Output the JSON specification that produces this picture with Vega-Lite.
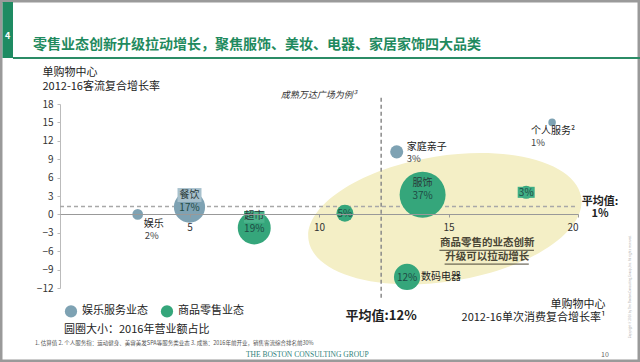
{
  "$schema": "https://vega.github.io/schema/vega-lite/v6.json",
  "width": 518,
  "height": 184,
  "autosize": {"type": "none"},
  "padding": {"left": 60, "top": 104, "right": 62, "bottom": 74},
  "background": "white",
  "config": {
    "font": "Noto Sans CJK SC",
    "view": {"stroke": null},
    "axis": {"labelOverlap": false},
    "text": {"font": "Noto Sans CJK SC", "color": "#222222"}
  },
  "datasets": {
    "cats": [
      {"name": "娱乐", "pct": "2%", "share": 2, "type": "娱乐服务业态", "x": 3.0, "y": 0.0},
      {"name": "餐饮", "pct": "17%", "share": 17, "type": "娱乐服务业态", "x": 5.0, "y": 1.2},
      {"name": "超市", "pct": "19%", "share": 19, "type": "商品零售业态", "x": 7.5, "y": -2.2},
      {"name": "美妆", "pct": "5%", "share": 5, "type": "商品零售业态", "x": 11.0, "y": 0.2},
      {"name": "家庭亲子", "pct": "3%", "share": 3, "type": "娱乐服务业态", "x": 13.0, "y": 10.2},
      {"name": "服饰", "pct": "37%", "share": 37, "type": "商品零售业态", "x": 14.0, "y": 3.2},
      {"name": "数码电器", "pct": "12%", "share": 12, "type": "商品零售业态", "x": 13.4, "y": -10.2},
      {"name": "家居家饰", "pct": "3%", "share": 3, "type": "商品零售业态", "x": 18.0, "y": 3.6},
      {"name": "个人服务²", "pct": "1%", "share": 1, "type": "娱乐服务业态", "x": 19.0, "y": 15.0}
    ]
  },
  "data": {"values": [{}]},
  "layer": [
    {
      "mark": {"type": "rect", "fillOpacity": 0, "stroke": "#9a9a9a", "strokeWidth": 5},
      "encoding": {"x": {"datum": -2.317}, "x2": {"datum": 22.394}, "y": {"datum": 34.96}, "y2": {"datum": -24.07}}
    },
    {
      "mark": {"type": "rect", "color": "#1e8b62"},
      "encoding": {"x": {"datum": -2.22}, "x2": {"datum": -1.815}, "y": {"datum": 34.63}, "y2": {"datum": 25.5}}
    },
    {
      "mark": {"type": "text", "text": "4", "color": "white", "fontWeight": "bold", "fontSize": 9, "align": "center", "baseline": "middle"},
      "encoding": {"x": {"datum": -2.02}, "y": {"datum": 29.1}}
    },
    {
      "mark": {"type": "rule", "color": "#2b8c66", "strokeWidth": 2},
      "encoding": {"x": {"datum": -1.815}, "x2": {"datum": 22.394}, "y": {"datum": 25.5}}
    },
    {
      "mark": {"type": "text", "text": "零售业态创新升级拉动增长，聚焦服饰、美妆、电器、家居家饰四大品类", "color": "#1f8a5e", "fontWeight": "bold", "fontSize": 14, "align": "left", "baseline": "middle"},
      "encoding": {"x": {"datum": -1.04}, "y": {"datum": 27.6}}
    },
    {
      "mark": {"type": "point", "filled": true, "shape": "M -0.9877 0.1564 A 1 0.455 -9 0 1 0.9877 -0.1564 A 1 0.455 -9 0 1 -0.9877 0.1564 Z", "size": 76176, "color": "#f4efc6", "opacity": 1, "strokeWidth": 0},
      "encoding": {"x": {"datum": 14.86}, "y": {"datum": -0.7}}
    },
    {
      "mark": {"type": "rule", "color": "#a8a8a8", "strokeWidth": 1.5, "strokeDash": [4, 3]},
      "encoding": {"x": {"datum": 0}, "x2": {"datum": 20}, "y": {"datum": 1.3}}
    },
    {
      "mark": {"type": "rule", "color": "#8a8a8a", "strokeWidth": 1.5, "strokeDash": [4, 3]},
      "encoding": {"x": {"datum": 12.4}, "y": {"datum": 19}, "y2": {"datum": -14}}
    },
    {
      "data": {"name": "cats"},
      "mark": {"type": "circle", "opacity": 1},
      "encoding": {
        "x": {
          "field": "x", "type": "quantitative",
          "scale": {"domain": [0, 20], "nice": false, "zero": false},
          "axis": {
            "values": [5, 10, 15, 20], "tickCount": 20, "offset": -74, "grid": false, "zindex": 1, "labelOverlap": false,
            "domainColor": "#999999", "tickColor": "#999999", "tickSize": 3,
            "labelFontSize": 10, "labelColor": "#333333", "labelPadding": 5,
            "title": ["单购物中心", "2012-16单次消费复合增长率¹"],
            "titleFontSize": 11, "titleFontWeight": "normal", "titleColor": "#222222",
            "titleAlign": "right", "titleAnchor": null, "titleBaseline": "top",
            "titleX": 545, "titleY": 84, "titleLineHeight": 13
          }
        },
        "y": {
          "field": "y", "type": "quantitative",
          "scale": {"domain": [-12, 18], "nice": false, "zero": false},
          "axis": {
            "values": [-12, -9, -6, -3, 0, 3, 6, 9, 12, 15, 18], "tickCount": 20, "grid": false, "labelOverlap": false,
            "domainColor": "#bbbbbb", "tickColor": "#bbbbbb", "tickSize": 3,
            "labelFontSize": 10, "labelColor": "#333333", "labelPadding": 4,
            "title": ["单购物中心", "2012-16客流复合增长率"],
            "titleFontSize": 11, "titleFontWeight": "normal", "titleColor": "#222222",
            "titleAngle": 0, "titleAlign": "left", "titleAnchor": null, "titleBaseline": "top",
            "titleX": -18, "titleY": -38, "titleLineHeight": 14
          }
        },
        "size": {"field": "share", "type": "quantitative", "scale": {"domain": [0, 37], "range": [0, 2116], "zero": true}, "legend": null},
        "color": {
          "field": "type", "type": "nominal",
          "scale": {"domain": ["娱乐服务业态", "商品零售业态"], "range": ["#7ea2b3", "#35a67b"]},
          "legend": {
            "orient": "none", "legendX": 4, "legendY": 200, "direction": "horizontal",
            "title": "圆圈大小：2016年营业额占比", "titleOrient": "bottom",
            "titleFontSize": 11, "titleFontWeight": "normal", "titleColor": "#222222", "titlePadding": 6,
            "symbolType": "circle", "symbolSize": 150, "symbolOpacity": 1,
            "labelFontSize": 11, "labelColor": "#222222", "columnPadding": 12
          }
        }
      }
    },
    {
      "data": {"name": "cats"},
      "transform": [{"filter": {"field": "name", "equal": "餐饮"}}],
      "mark": {"type": "point", "filled": true, "opacity": 1, "shape": "M -1 -0.58 H 1 V 0.58 H -1 Z", "size": 576, "yOffset": -12, "color": "#a7c0cc", "strokeWidth": 0},
      "encoding": {"x": {"field": "x", "type": "quantitative"}, "y": {"field": "y", "type": "quantitative"}}
    },
    {
      "data": {"name": "cats"},
      "transform": [{"filter": {"field": "name", "equal": "超市"}}],
      "mark": {"type": "point", "filled": true, "opacity": 1, "shape": "M -1 -0.58 H 1 V 0.58 H -1 Z", "size": 420, "yOffset": -11, "color": "#4ab38b", "strokeWidth": 0},
      "encoding": {"x": {"field": "x", "type": "quantitative"}, "y": {"field": "y", "type": "quantitative"}}
    },
    {
      "data": {"name": "cats"},
      "transform": [{"filter": {"field": "name", "equal": "家居家饰"}}],
      "mark": {"type": "point", "filled": true, "opacity": 1, "shape": "M -1 -0.65 H 1 V 0.65 H -1 Z", "size": 289, "color": "#3fae85", "strokeWidth": 0},
      "encoding": {"x": {"field": "x", "type": "quantitative"}, "y": {"field": "y", "type": "quantitative"}}
    },
    {
      "data": {"name": "cats"},
      "transform": [{"filter": {"field": "name", "oneOf": ["餐饮", "超市", "服饰"]}}],
      "mark": {"type": "text", "fontSize": 10, "dy": -12, "align": "center", "baseline": "middle", "color": "#2a3a3a"},
      "encoding": {"x": {"field": "x", "type": "quantitative"}, "y": {"field": "y", "type": "quantitative"}, "text": {"field": "name"}}
    },
    {
      "data": {"name": "cats"},
      "transform": [{"filter": {"field": "name", "oneOf": ["餐饮", "超市", "服饰", "美妆", "家居家饰", "数码电器"]}}],
      "mark": {"type": "text", "fontSize": 10, "dy": 1, "align": "center", "baseline": "middle", "color": "#1f4a44"},
      "encoding": {"x": {"field": "x", "type": "quantitative"}, "y": {"field": "y", "type": "quantitative"}, "text": {"field": "pct"}}
    },
    {
      "data": {"name": "cats"},
      "transform": [{"filter": {"field": "name", "equal": "家庭亲子"}}],
      "mark": {"type": "text", "fontSize": 10, "dx": 10, "dy": -5, "align": "left", "baseline": "middle"},
      "encoding": {"x": {"field": "x", "type": "quantitative"}, "y": {"field": "y", "type": "quantitative"}, "text": {"field": "name"}}
    },
    {
      "data": {"name": "cats"},
      "transform": [{"filter": {"field": "name", "equal": "家庭亲子"}}],
      "mark": {"type": "text", "fontSize": 9.5, "dx": 10, "dy": 7, "align": "left", "baseline": "middle", "color": "#444444"},
      "encoding": {"x": {"field": "x", "type": "quantitative"}, "y": {"field": "y", "type": "quantitative"}, "text": {"field": "pct"}}
    },
    {
      "data": {"name": "cats"},
      "transform": [{"filter": {"field": "name", "equal": "娱乐"}}],
      "mark": {"type": "text", "fontSize": 10, "dx": 6, "dy": 10, "align": "left", "baseline": "middle"},
      "encoding": {"x": {"field": "x", "type": "quantitative"}, "y": {"field": "y", "type": "quantitative"}, "text": {"field": "name"}}
    },
    {
      "data": {"name": "cats"},
      "transform": [{"filter": {"field": "name", "equal": "娱乐"}}],
      "mark": {"type": "text", "fontSize": 9.5, "dx": 7, "dy": 22, "align": "left", "baseline": "middle", "color": "#444444"},
      "encoding": {"x": {"field": "x", "type": "quantitative"}, "y": {"field": "y", "type": "quantitative"}, "text": {"field": "pct"}}
    },
    {
      "data": {"name": "cats"},
      "transform": [{"filter": {"field": "name", "equal": "个人服务²"}}],
      "mark": {"type": "text", "fontSize": 10, "dx": -21, "dy": 9, "align": "left", "baseline": "middle"},
      "encoding": {"x": {"field": "x", "type": "quantitative"}, "y": {"field": "y", "type": "quantitative"}, "text": {"field": "name"}}
    },
    {
      "data": {"name": "cats"},
      "transform": [{"filter": {"field": "name", "equal": "个人服务²"}}],
      "mark": {"type": "text", "fontSize": 9.5, "dx": -21, "dy": 21, "align": "left", "baseline": "middle", "color": "#444444"},
      "encoding": {"x": {"field": "x", "type": "quantitative"}, "y": {"field": "y", "type": "quantitative"}, "text": {"field": "pct"}}
    },
    {
      "data": {"name": "cats"},
      "transform": [{"filter": {"field": "name", "equal": "数码电器"}}],
      "mark": {"type": "text", "fontSize": 10, "dx": 14, "dy": 0, "align": "left", "baseline": "middle"},
      "encoding": {"x": {"field": "x", "type": "quantitative"}, "y": {"field": "y", "type": "quantitative"}, "text": {"field": "name"}}
    },
    {
      "mark": {"type": "text", "text": "成熟万达广场为例³", "fontSize": 9, "fontStyle": "italic", "align": "right", "baseline": "middle", "color": "#333333"},
      "encoding": {"x": {"datum": 11.45}, "y": {"datum": 19.4}}
    },
    {
      "mark": {"type": "text", "text": "平均值:12%", "fontSize": 13, "fontWeight": "bold", "align": "center", "baseline": "middle", "color": "#222222"},
      "encoding": {"x": {"datum": 12.4}, "y": {"datum": -16.5}}
    },
    {
      "mark": {"type": "text", "text": "平均值:", "fontSize": 11, "fontWeight": "bold", "align": "center", "baseline": "middle", "color": "#222222"},
      "encoding": {"x": {"datum": 20.85}, "y": {"datum": 2.1}}
    },
    {
      "mark": {"type": "text", "text": "1%", "fontSize": 11, "fontWeight": "bold", "align": "center", "baseline": "middle", "color": "#222222"},
      "encoding": {"x": {"datum": 20.85}, "y": {"datum": 0.1}}
    },
    {
      "mark": {"type": "text", "text": "商品零售的业态创新", "fontSize": 10.5, "fontWeight": "bold", "align": "center", "baseline": "middle", "color": "#4a4636"},
      "encoding": {"x": {"datum": 16.5}, "y": {"datum": -4.66}}
    },
    {
      "mark": {"type": "text", "text": "升级可以拉动增长", "fontSize": 10.5, "fontWeight": "bold", "align": "center", "baseline": "middle", "color": "#4a4636"},
      "encoding": {"x": {"datum": 16.5}, "y": {"datum": -6.95}}
    },
    {
      "mark": {"type": "rule", "color": "#4a4636", "strokeWidth": 1},
      "encoding": {"x": {"datum": 14.65}, "x2": {"datum": 18.3}, "y": {"datum": -5.85}}
    },
    {
      "mark": {"type": "rule", "color": "#4a4636", "strokeWidth": 1},
      "encoding": {"x": {"datum": 14.85}, "x2": {"datum": 18.1}, "y": {"datum": -8.1}}
    },
    {
      "mark": {"type": "text", "text": "1. 估算值  2. 个人服务指：运动健身、美容美发SPA等服务类业态  3. 成熟：2016年前开业，销售客流综合排名前30%", "fontSize": 5.5, "align": "left", "baseline": "middle", "color": "#555555"},
      "encoding": {"x": {"datum": -0.965}, "y": {"datum": -20.97}}
    },
    {
      "mark": {"type": "text", "text": "THE BOSTON CONSULTING GROUP", "font": "Liberation Serif", "fontSize": 7.5, "align": "left", "baseline": "middle", "color": "#2f7f7a"},
      "encoding": {"x": {"datum": 7.18}, "y": {"datum": -22.93}}
    },
    {
      "mark": {"type": "text", "text": "10", "fontSize": 7, "align": "center", "baseline": "middle", "color": "#666666"},
      "encoding": {"x": {"datum": 21.04}, "y": {"datum": -22.93}}
    },
    {
      "mark": {"type": "text", "text": "Copyright © 2016 by The Boston Consulting Group, Inc. All rights reserved.", "fontSize": 3, "angle": 270, "align": "center", "baseline": "middle", "color": "#aaaaaa"},
      "encoding": {"x": {"datum": 22.0}, "y": {"datum": -11.8}}
    }
  ]
}
